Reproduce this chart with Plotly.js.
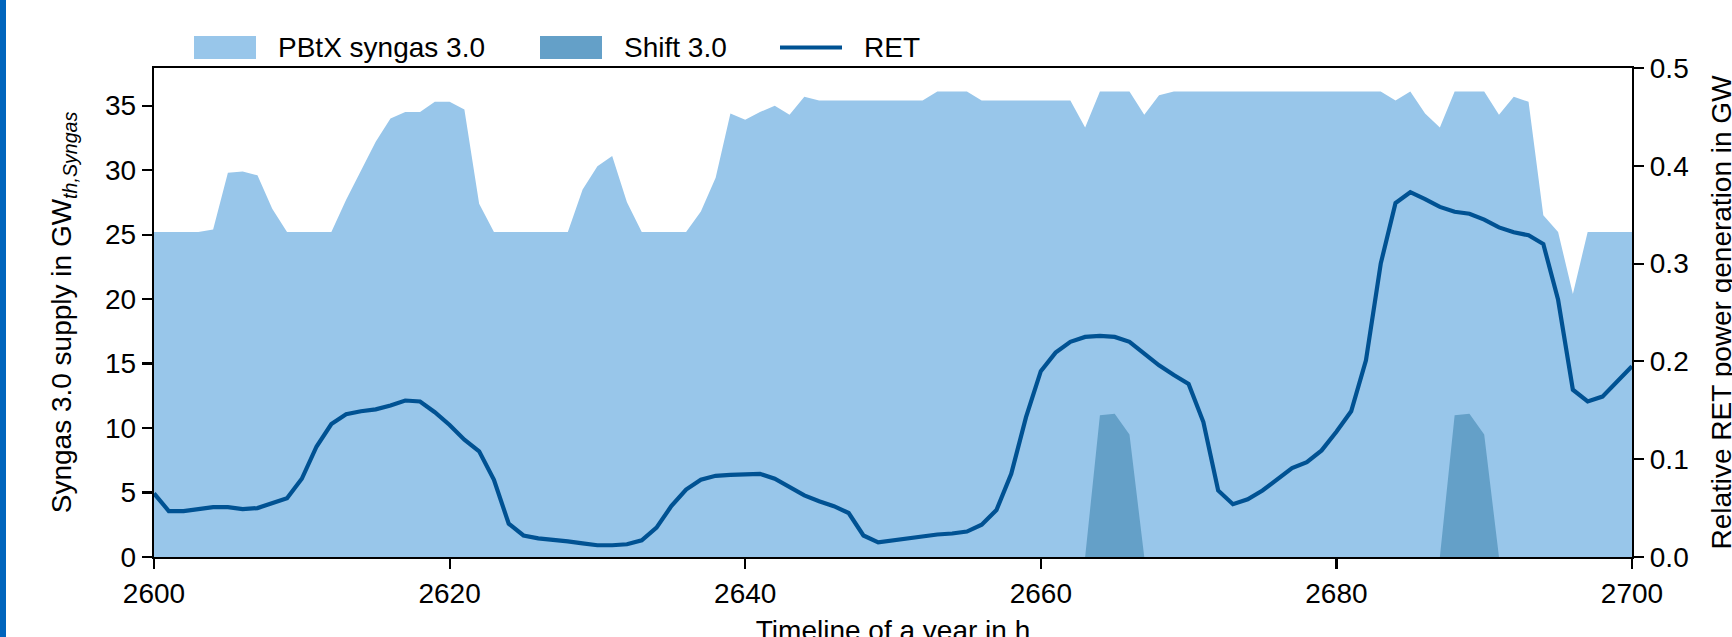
<!DOCTYPE html>
<html><head><meta charset="utf-8">
<script src="https://cdn.plot.ly/plotly-3.0.1.min.js"></script>
<style>html,body{margin:0;padding:0;background:#fff;overflow:hidden;width:1732px;height:637px;} #chart{width:1750px;height:665px;}</style>
</head><body><div id="chart"></div>
<script>
const hours = [
2600,2601,2602,2603,2604,2605,2606,2607,2608,2609,
2610,2611,2612,2613,2614,2615,2616,2617,2618,2619,
2620,2621,2622,2623,2624,2625,2626,2627,2628,2629,
2630,2631,2632,2633,2634,2635,2636,2637,2638,2639,
2640,2641,2642,2643,2644,2645,2646,2647,2648,2649,
2650,2651,2652,2653,2654,2655,2656,2657,2658,2659,
2660,2661,2662,2663,2664,2665,2666,2667,2668,2669,
2670,2671,2672,2673,2674,2675,2676,2677,2678,2679,
2680,2681,2682,2683,2684,2685,2686,2687,2688,2689,
2690,2691,2692,2693,2694,2695,2696,2697,2698,2699,
2700];
const pbtxSyngas = [
25.2,25.2,25.2,25.2,25.4,29.8,29.9,29.6,27.0,25.2,
25.2,25.2,25.2,27.7,30.0,32.2,34.0,34.5,34.5,35.3,
35.3,34.7,27.4,25.2,25.2,25.2,25.2,25.2,25.2,28.5,
30.3,31.1,27.5,25.2,25.2,25.2,25.2,26.8,29.4,34.4,
33.9,34.5,35.0,34.3,35.7,35.4,35.4,35.4,35.4,35.4,
35.4,35.4,35.4,36.1,36.1,36.1,35.4,35.4,35.4,35.4,
35.4,35.4,35.4,33.3,36.1,36.1,36.1,34.3,35.8,36.1,
36.1,36.1,36.1,36.1,36.1,36.1,36.1,36.1,36.1,36.1,
36.1,36.1,36.1,36.1,35.4,36.1,34.4,33.3,36.1,36.1,
36.1,34.3,35.7,35.3,26.5,25.2,20.4,25.2,25.2,25.2,
25.2];
const shiftSyngas = [
0,0,0,0,0,0,0,0,0,0,
0,0,0,0,0,0,0,0,0,0,
0,0,0,0,0,0,0,0,0,0,
0,0,0,0,0,0,0,0,0,0,
0,0,0,0,0,0,0,0,0,0,
0,0,0,0,0,0,0,0,0,0,
0,0,0,0,11.0,11.1,9.5,0,0,0,
0,0,0,0,0,0,0,0,0,0,
0,0,0,0,0,0,0,0,11.0,11.1,
9.5,0,0,0,0,0,0,0,0,0,
0];
const retGeneration = [
0.065,0.047,0.047,0.049,0.051,0.051,0.049,0.050,0.055,0.060,
0.080,0.113,0.136,0.146,0.149,0.151,0.155,0.160,0.159,0.148,
0.135,0.120,0.108,0.079,0.034,0.022,0.019,0.018,0.016,0.014,
0.012,0.012,0.013,0.017,0.030,0.052,0.069,0.079,0.083,0.084,
0.085,0.085,0.080,0.071,0.063,0.057,0.052,0.045,0.022,0.015,
0.017,0.020,0.022,0.023,0.024,0.026,0.033,0.048,0.085,0.143,
0.190,0.209,0.220,0.225,0.226,0.225,0.220,0.208,0.196,0.186,
0.177,0.138,0.068,0.054,0.059,0.068,0.079,0.091,0.097,0.109,
0.128,0.149,0.201,0.300,0.362,0.373,0.366,0.358,0.353,0.351,
0.345,0.337,0.332,0.329,0.320,0.263,0.171,0.159,0.164,0.179,
0.195];
const seriesNames = ['PBtX syngas 3.0', 'Shift 3.0', 'RET'];
const xTickVals = [2600, 2620, 2640, 2660, 2680, 2700];
const yTickVals = [0, 5, 10, 15, 20, 25, 30, 35];
const y2TickVals = [0.0, 0.1, 0.2, 0.3, 0.4, 0.5];

const C_LIGHT = '#98C6EA', C_MID = '#64A0C8', C_DARK = '#005293';
const FONT = 'Liberation Sans, Arial, Helvetica, sans-serif';
const FS = 28;
// figure is slightly larger than the 1732x637 window so the outer titles get cut like in the reference
const W = 1750, H = 665;
const M = {l: 154, r: 118, t: 68, b: 108};
const PW = W - M.l - M.r, PH = H - M.t - M.b;
function xp(px) { return (px - M.l) / PW; }
function yp(py) { return (H - M.b - py) / PH; }

const traces = [
  {x: hours, y: pbtxSyngas, name: seriesNames[0], type: 'scatter', mode: 'lines',
   fill: 'tozeroy', fillcolor: C_LIGHT, line: {width: 0, color: C_LIGHT}, showlegend: false, hoverinfo: 'x+y'},
  {x: hours, y: shiftSyngas, name: seriesNames[1], type: 'scatter', mode: 'lines',
   fill: 'tozeroy', fillcolor: C_MID, line: {width: 0, color: C_MID}, showlegend: false, hoverinfo: 'x+y'},
  {x: hours, y: retGeneration, name: seriesNames[2], type: 'scatter', mode: 'lines', yaxis: 'y2',
   line: {width: 4.2, color: C_DARK}, showlegend: false}
];

const axisCommon = {
  showgrid: false, zeroline: false, showline: true, linecolor: '#000', linewidth: 2.2,
  ticks: 'outside', ticklen: 10, tickwidth: 2.2, tickcolor: '#000',
  tickfont: {family: FONT, size: FS, color: '#000'}
};

const shapes = [
  {type: 'rect', xref: 'paper', yref: 'paper', x0: xp(0), x1: xp(6), y0: yp(H), y1: yp(0),
   fillcolor: '#0065BD', line: {width: 0}},
  {type: 'rect', xref: 'paper', yref: 'paper', x0: xp(194), x1: xp(256), y0: yp(59), y1: yp(36),
   fillcolor: C_LIGHT, line: {width: 0}},
  {type: 'rect', xref: 'paper', yref: 'paper', x0: xp(540), x1: xp(602), y0: yp(59), y1: yp(36),
   fillcolor: C_MID, line: {width: 0}},
  {type: 'line', xref: 'paper', yref: 'paper', x0: xp(780), x1: xp(842), y0: yp(47.5), y1: yp(47.5),
   line: {width: 4.2, color: C_DARK}}
];
const legendTextX = [276, 622, 862];
const annotations = seriesNames.map((n, i) => ({
  text: n, xref: 'paper', yref: 'paper', x: xp(legendTextX[i]), y: yp(47.5),
  xanchor: 'left', yanchor: 'middle', showarrow: false,
  font: {family: FONT, size: FS, color: '#000'}
}));

const layout = {
  width: W, height: H, margin: M,
  paper_bgcolor: '#fff', plot_bgcolor: '#fff',
  font: {family: FONT, size: FS, color: '#000'},
  showlegend: false,
  xaxis: Object.assign({}, axisCommon, {
    range: [2600, 2700], tickvals: xTickVals, mirror: true,
    title: {text: 'Timeline of a year in h', font: {family: FONT, size: FS}, standoff: 13}
  }),
  yaxis: Object.assign({}, axisCommon, {
    range: [0, 37.92], tickvals: yTickVals,
    title: {text: 'Syngas 3.0 supply in GW<sub><i>th,Syngas</i></sub>', font: {family: FONT, size: FS}, standoff: 25}
  }),
  yaxis2: Object.assign({}, axisCommon, {
    range: [0, 0.5], tickvals: y2TickVals, tickformat: '.1f',
    overlaying: 'y', side: 'right',
    title: {text: 'Relative RET power generation in GW', font: {family: FONT, size: FS}, standoff: 24}
  }),
  shapes: shapes,
  annotations: annotations
};

Plotly.newPlot('chart', traces, layout, {displayModeBar: false, staticPlot: true});
</script>
</body></html>
